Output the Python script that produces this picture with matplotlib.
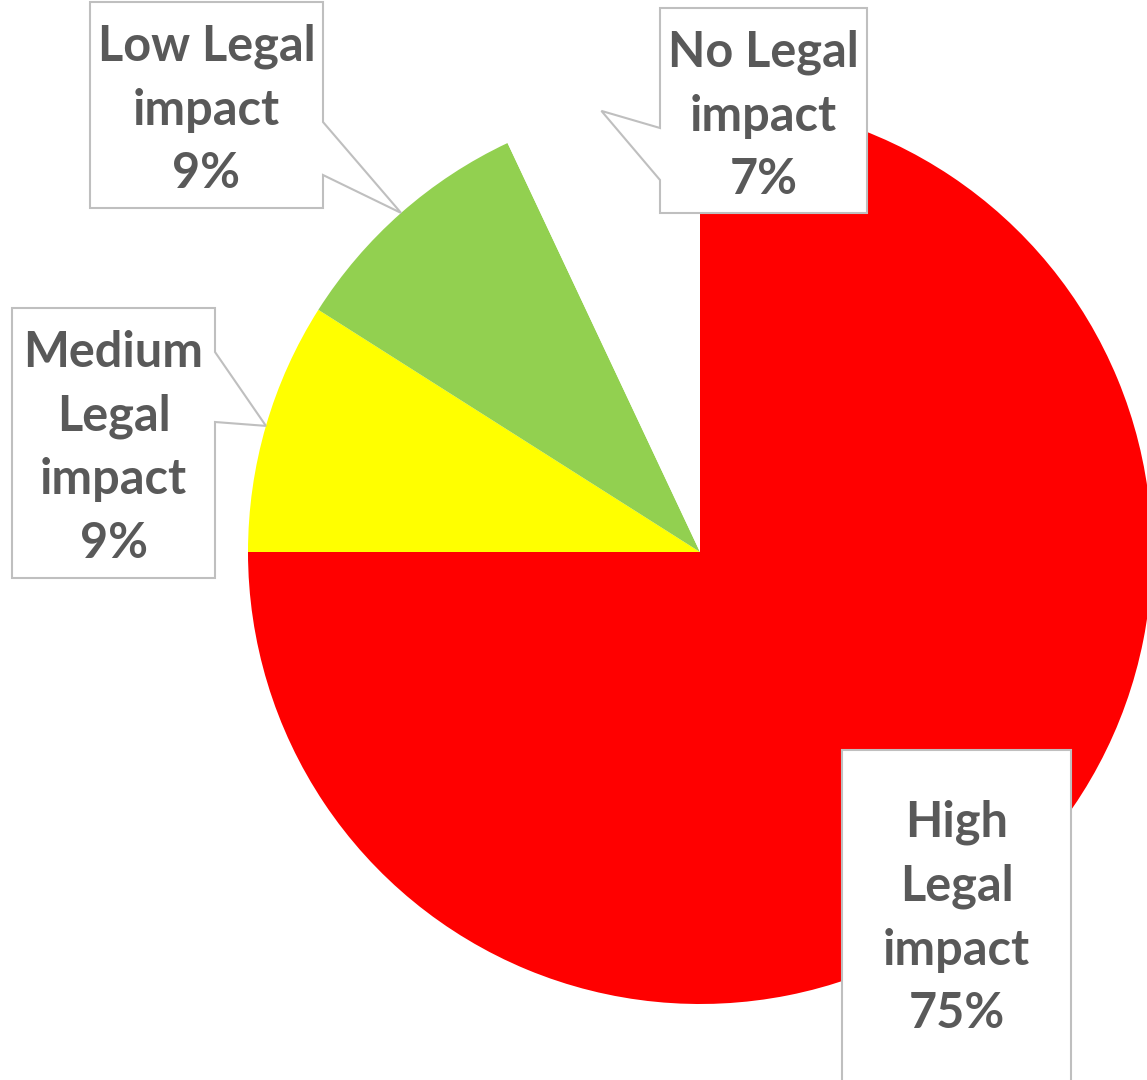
import numpy as np
import matplotlib.pyplot as plt
from matplotlib.patches import Polygon

categories = ['High\nLegal\nimpact', 'Medium\nLegal\nimpact', 'Low Legal\nimpact', 'No Legal\nimpact']
values = [75, 9, 9, 7]
colors = ['#FF0000', '#FFFF00', '#92D050', '#FFFFFF']

# callout boxes in pixel coords: (left, top, right, bottom), side of pointer, pointer base span
boxes = [
    dict(box=(842, 750, 1071, 1090), side=None, base=None, text_y=918),
    dict(box=(12, 308, 215, 578), side='right', base=(352, 422), text_y=448),
    dict(box=(90, 2, 323, 208), side='right', base=(122, 175), text_y=110),
    dict(box=(660, 8, 867, 213), side='left', base=(128, 180), text_y=116),
]

W, H = 1147, 1080
fig = plt.figure(figsize=(W / 100, H / 100), dpi=100)
ax = fig.add_axes([0, 0, 1, 1])

cx, cy, r = 700, 552, 452
# y axis is inverted below, so start at -90 and go counterclockwise in data = clockwise on screen
wedges, _ = ax.pie(values, colors=colors, startangle=-90, counterclock=True,
                   radius=r, center=(cx, cy), wedgeprops=dict(linewidth=0))

for w, lab, v, b in zip(wedges, categories, values, boxes):
    l, t, rr, bt = b['box']
    mid = np.deg2rad((w.theta1 + w.theta2) / 2)
    tip = (cx + r * np.cos(mid), cy + r * np.sin(mid))
    if b['side'] == 'right':
        y1, y2 = b['base']
        pts = [(l, t), (rr, t), (rr, y1), tip, (rr, y2), (rr, bt), (l, bt)]
    elif b['side'] == 'left':
        y1, y2 = b['base']
        pts = [(l, t), (rr, t), (rr, bt), (l, bt), (l, y2), tip, (l, y1)]
    else:
        pts = [(l, t), (rr, t), (rr, bt), (l, bt)]
    ax.add_patch(Polygon(pts, closed=True, facecolor='white', edgecolor='#BFBFBF',
                         linewidth=1.5, zorder=3))
    ax.text((l + rr) / 2, b['text_y'], '{}\n{}%'.format(lab, v), ha='center', va='center',
            fontsize=35, fontweight='bold', family='Lato', color='#595959',
            linespacing=1.5, zorder=4)

ax.set_xlim(0, W)
ax.set_ylim(H, 0)
ax.set_aspect('equal')
ax.axis('off')
fig.savefig('out.png', dpi=100)
